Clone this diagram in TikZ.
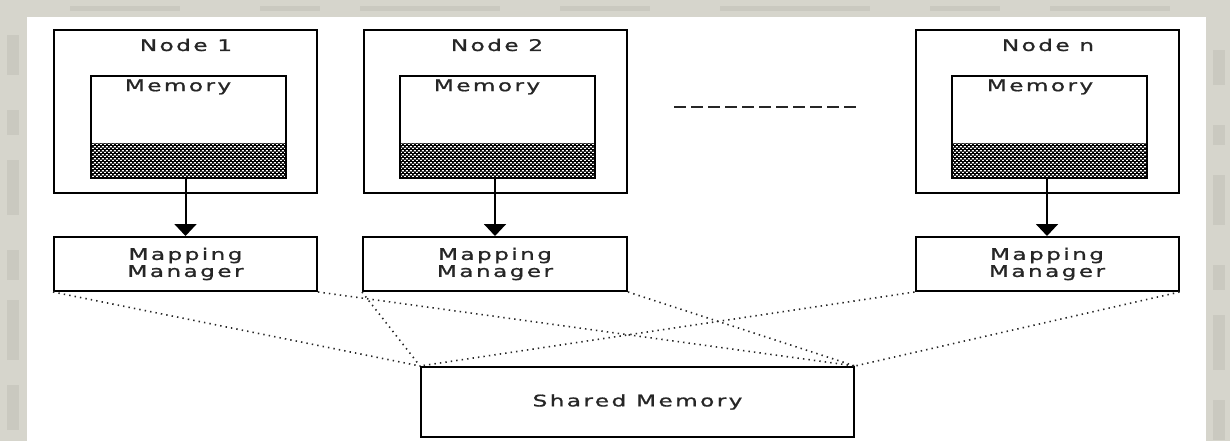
\documentclass[tikz,border=0pt]{standalone}
\usepackage{fontspec}
\newfontfamily\pixfont[LetterSpace=15,FakeStretch=1.45,FakeBold=1]{DejaVu Sans}
\usetikzlibrary{arrows.meta,patterns}

% white dots of the checker laid over a black ground
\pgfdeclarepatternformonly{memdots}{\pgfpointorigin}{\pgfqpoint{4.4pt}{4pt}}{\pgfqpoint{4.4pt}{4pt}}{%
  \pgfpathrectangle{\pgfqpoint{0pt}{0pt}}{\pgfqpoint{2.2pt}{1.4pt}}%
  \pgfpathrectangle{\pgfqpoint{2.2pt}{2pt}}{\pgfqpoint{2.2pt}{1.4pt}}%
  \pgfusepath{fill}}

\definecolor{frame}{HTML}{D6D5CC}
\definecolor{framedark}{HTML}{CAC9C0}

\tikzset{
  box/.style={draw=black, line width=2pt, inner sep=0pt, fill=white},
  outerbox/.style={box, minimum width=263pt, minimum height=163pt},
  membox/.style={box, minimum width=195pt, minimum height=102pt,
    path picture={
      \fill[black] (path picture bounding box.south west) rectangle
        ([yshift=35pt]path picture bounding box.south east);
      \fill[pattern=memdots, pattern color=white]
        (path picture bounding box.south west) rectangle
        ([yshift=35pt]path picture bounding box.south east);}},
  mapbox/.style={box, minimum width=263pt, minimum height=54pt},
  txt/.style={font=\pixfont\fontsize{16}{17}\selectfont, inner sep=0pt, text=black!85},
  link/.style={line width=1.6pt, dash pattern=on 1.4pt off 4.1pt, black!85},
  feed/.style={line width=2pt, -{Triangle[width=22pt,length=12pt]}},
  ellipsis/.style={line width=1.6pt, dash pattern=on 12pt off 5pt, black!85},
}

\begin{document}
\begin{tikzpicture}[x=1pt,y=-1pt]
\useasboundingbox (0,0) rectangle (1230,441);

% window frame around the drawing area
\fill[frame] (0,0) rectangle (1230,441);
\foreach \yy/\hh in {35/40,110/25,160/55,250/30,300/60,385/45} {
  \fill[framedark] (7,\yy) rectangle (19,\yy+\hh);
  \fill[framedark] (1213,\yy+15) rectangle (1225,\yy+\hh+10);
}
\foreach \xx/\ww in {70/110,260/60,360/140,560/90,720/150,930/70,1050/120} {
  \fill[framedark] (\xx,6) rectangle (\xx+\ww,11);
}
\fill[white] (27,17) rectangle (1206,441);

% processing nodes
\node[outerbox] (n1) at (185.5,111.5) {};
\node[outerbox] (n2) at (495,111.5) {};
\node[outerbox] (nn) at (1047,111.5) {};

\node[txt] (t1) at (186,45) {Node 1};
\node[txt] (t2) at (497,45) {Node 2};
\node[txt] (tn) at (1048,45) {Node n};

\node[membox] (m1) at (188.5,127) {};
\node[membox] (m2) at (497.5,127) {};
\node[membox] (mn) at (1049,127) {};

\node[txt] (ml1) at (178,87) {Memory};
\node[txt] (ml2) at (487,87) {Memory};
\node[txt] (mln) at (1040,87) {Memory};

% ellipsis between node 2 and node n
\coordinate (gapL) at (674,107);
\coordinate (gapR) at (860,107);
\draw[ellipsis] (gapL) -- (gapR);

% mapping managers
\node[mapbox, txt, align=center, draw=black, fill=white] (mp1) at (185.5,264) {Mapping\\Manager};
\node[mapbox, txt, align=center, draw=black, fill=white, minimum width=264pt] (mp2) at (495,264) {Mapping\\Manager};
\node[mapbox, txt, align=center, draw=black, fill=white] (mpn) at (1047,264) {Mapping\\Manager};

\draw[feed] (m1.south -| mp1.north) -- (mp1.north);
\draw[feed] (m2.south -| mp2.north) -- (mp2.north);
\draw[feed] (mn.south -| mpn.north) -- (mpn.north);

% shared memory
\node[box, txt, draw=black, minimum width=433pt, minimum height=70pt] (sh) at (637.5,402) {Shared Memory};

\draw[link] (mp1.south west) -- (sh.north west);
\draw[link] (mp1.south east) -- (sh.north east);
\draw[link] (mp2.south west) -- (sh.north west);
\draw[link] (mp2.south east) -- (sh.north east);
\draw[link] (mpn.south west) -- (sh.north west);
\draw[link] (mpn.south east) -- (sh.north east);
\end{tikzpicture}
\end{document}
